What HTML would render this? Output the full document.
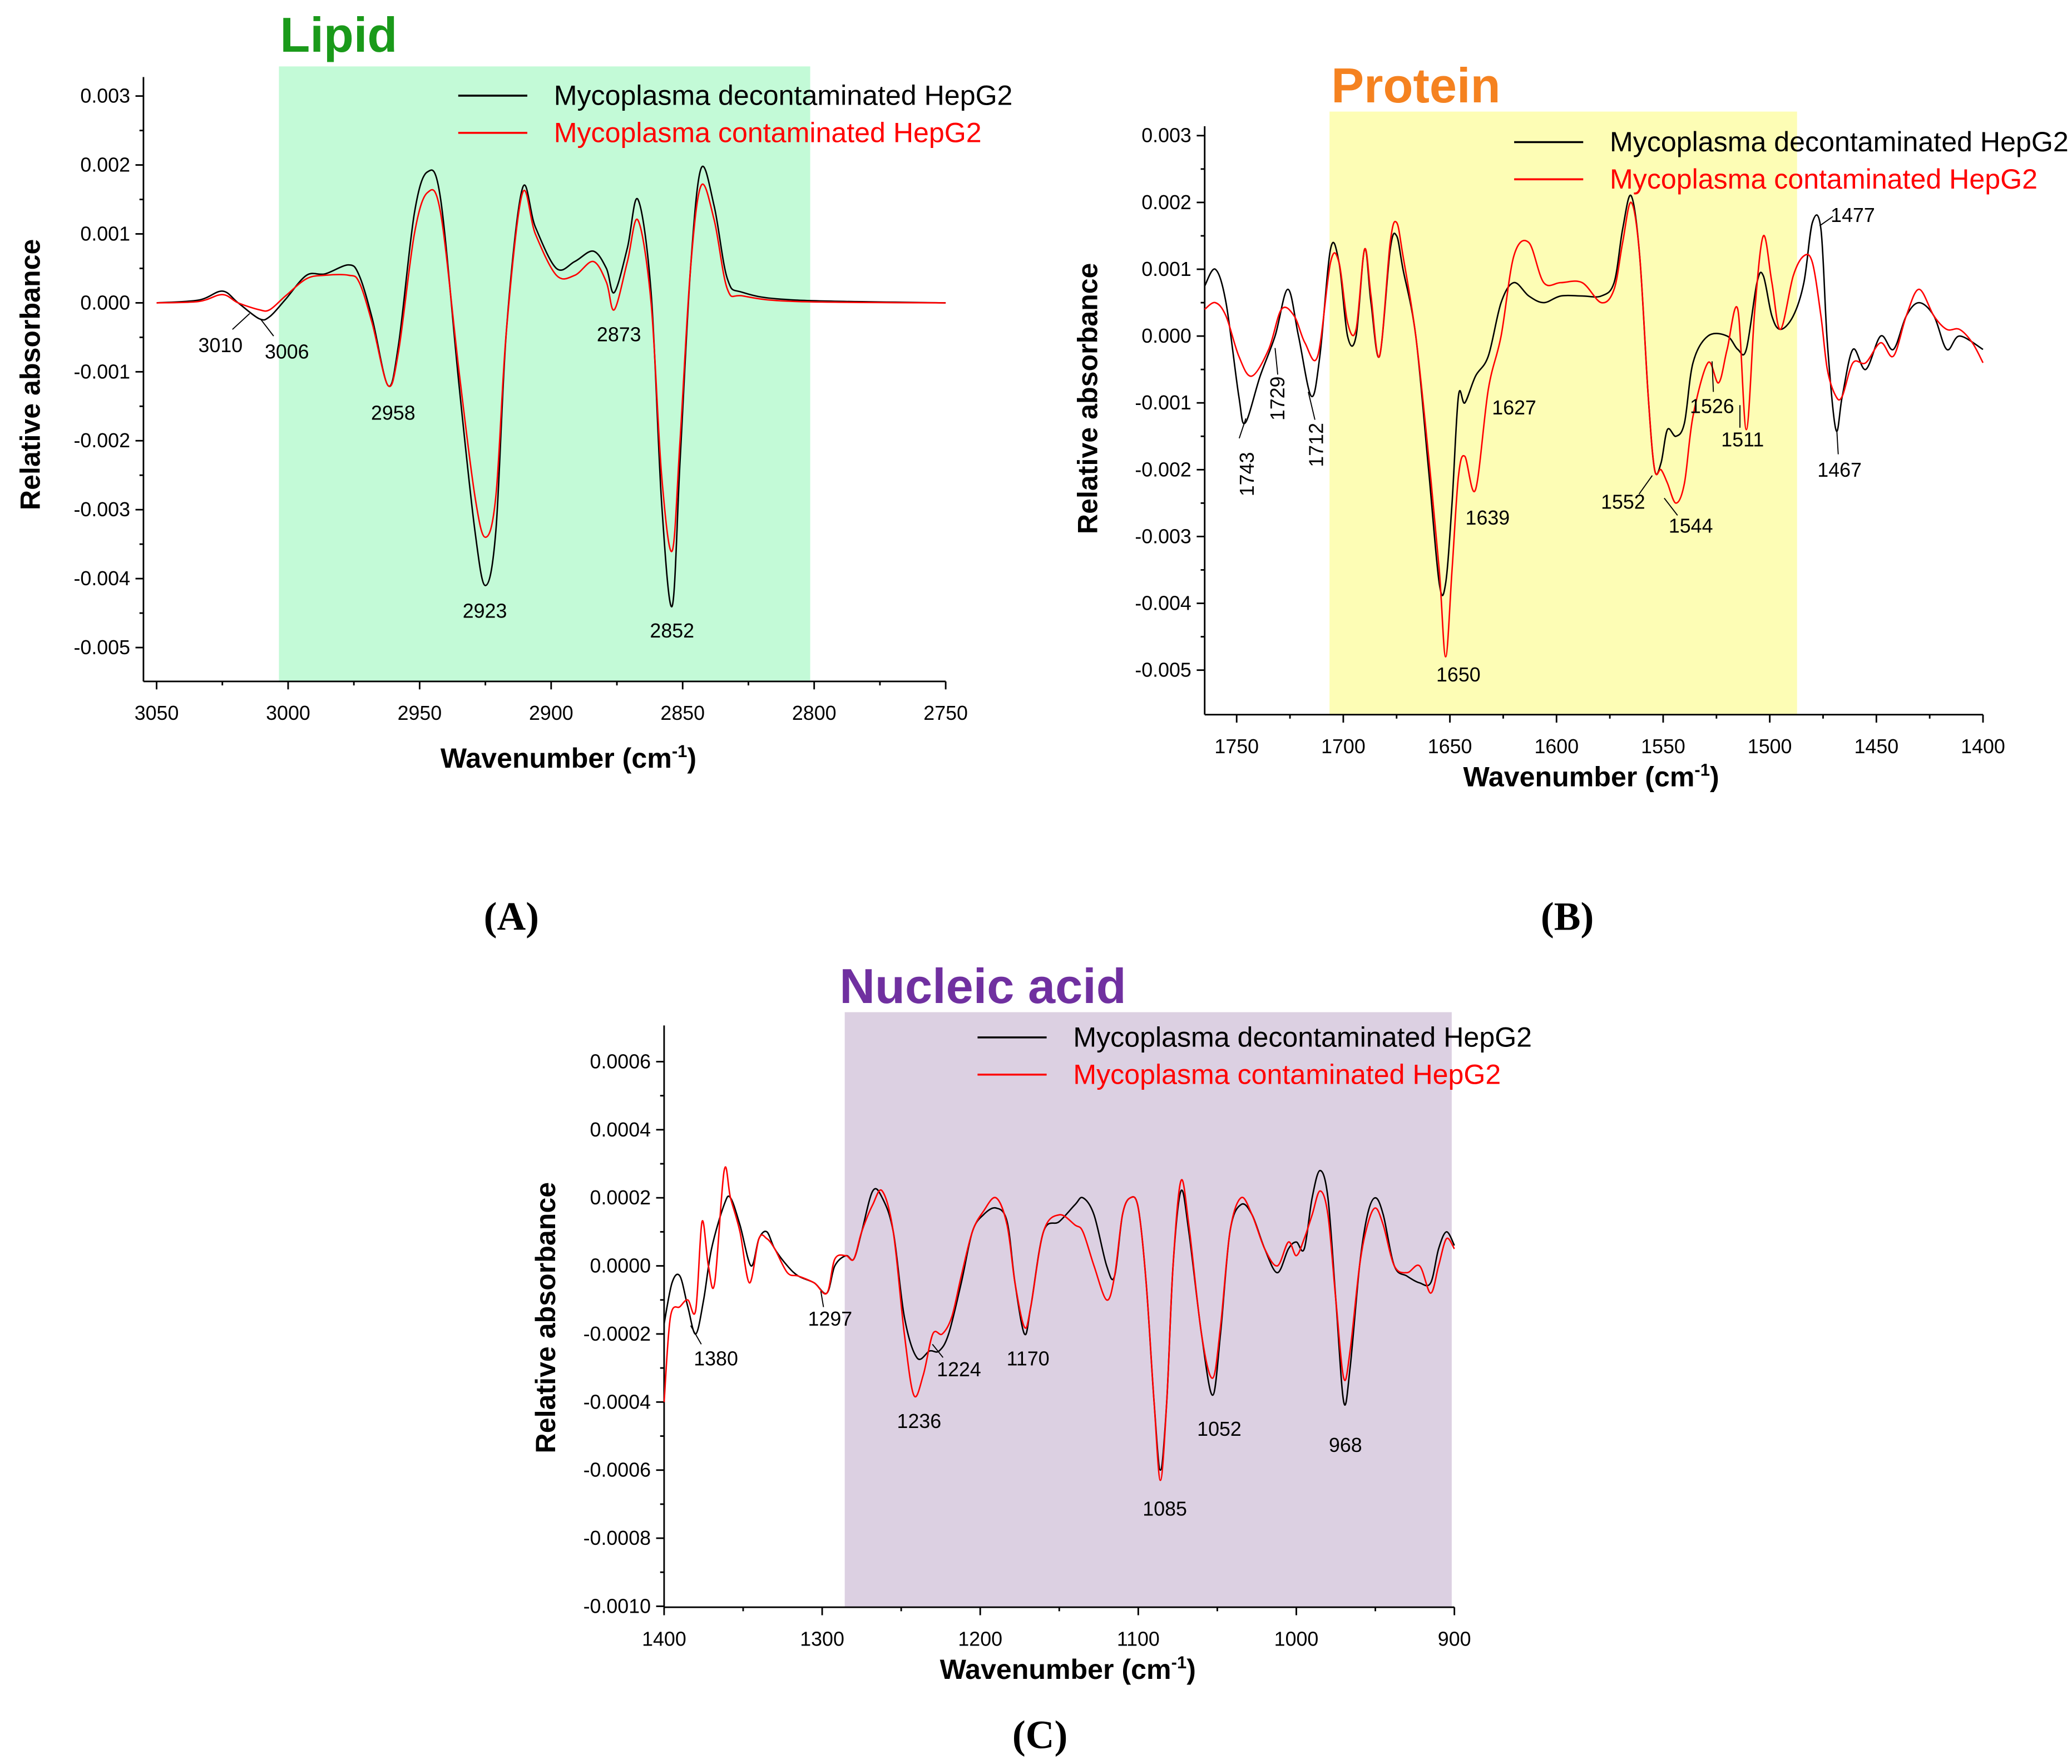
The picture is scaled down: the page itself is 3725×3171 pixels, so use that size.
<!DOCTYPE html>
<html><head><meta charset="utf-8">
<style>
html,body{margin:0;padding:0;background:#fff;}
svg{display:block;}
text{font-family:"Liberation Sans",Arial,sans-serif;}
</style></head>
<body>
<svg id="fig" width="3725" height="3171" viewBox="0 0 1560 1328" xmlns="http://www.w3.org/2000/svg"></svg>
<script>
// ---------- Panel A: Lipid ----------
const aWave = [3050,3034,3025,3019,3011,3007,3001,2993,2986,2977,2973,2968,2962,2958,2952,2947,2942,2935,2929,2925,2921,2917,2911,2906,2898,2891,2884,2879,2876,2871,2867,2862,2858,2854,2851,2847,2843,2838,2833,2827,2807,2750];
const aBlack = [0,0.00004,0.00017,0,-0.00023,-0.0002,0.00005,0.0004,0.00042,0.00055,0.0004,-0.00023,-0.0012,-0.0006,0.0013,0.0019,0.0015,-0.0012,-0.0033,-0.0041,-0.0033,-0.0004,0.00165,0.0011,0.0005,0.0006,0.00075,0.0005,0.00015,0.0008,0.0015,0.00015,-0.0029,-0.0044,-0.0023,0.0005,0.00195,0.0014,0.00035,0.00015,0.00004,0];
const aRed = [0,0.00002,0.00012,0,-0.0001,-0.0001,0.0001,0.00035,0.0004,0.0004,0.0003,-0.0003,-0.0012,-0.0007,0.001,0.0016,0.0013,-0.001,-0.0028,-0.0034,-0.0028,-0.0004,0.00158,0.001,0.0004,0.0004,0.0006,0.0003,-0.0001,0.0006,0.0012,0,-0.0025,-0.0036,-0.002,0.0005,0.0017,0.0012,0.0002,0.0001,0.00002,0];
const aYTicks = [0.003,0.002,0.001,0,-0.001,-0.002,-0.003,-0.004,-0.005];
const aYLabels = ["0.003","0.002","0.001","0.000","-0.001","-0.002","-0.003","-0.004","-0.005"];
const aXTicks = [3050,3000,2950,2900,2850,2800,2750];

// ---------- Panel B: Protein ----------
const bWave = [1765,1760,1755,1749,1746,1739,1732,1726,1721,1715,1711,1706,1702,1698,1694,1690,1687,1683,1678,1675,1672,1666,1660,1655,1652,1649,1646,1643,1638,1632,1626,1620,1613,1606,1598,1588,1579,1573,1569,1565,1561,1557,1554,1551,1548,1544,1540,1536,1529,1520,1515,1511,1506,1503,1499,1495,1489,1484,1480,1476,1473,1469,1466,1461,1455,1448,1442,1436,1430,1423,1417,1411,1400];
const bBlack = [0.00075,0.001,0.0005,-0.0009,-0.0013,-0.0006,0,0.0007,0,-0.0009,-0.0003,0.0013,0.0011,0,0,0.0013,0.0005,-0.0003,0.0013,0.0015,0.001,0,-0.002,-0.0037,-0.0037,-0.0025,-0.0009,-0.001,-0.0006,-0.0003,0.0005,0.0008,0.0006,0.0005,0.0006,0.0006,0.0006,0.0008,0.0016,0.0021,0.0012,-0.0009,-0.002,-0.0019,-0.0014,-0.0015,-0.0013,-0.0004,0,0,-0.0002,-0.0002,0.0008,0.0009,0.0003,0.0001,0.0003,0.0008,0.0017,0.0016,-0.0001,-0.0014,-0.0009,-0.0002,-0.0005,0,-0.0002,0.0003,0.0005,0.0003,-0.0002,0,-0.0002];
const bWaveR = [1765,1760,1755,1749,1743,1735,1729,1723,1718,1712,1706,1702,1698,1694,1690,1687,1683,1678,1675,1672,1666,1660,1655,1652,1649,1646,1643,1638,1632,1626,1620,1613,1606,1598,1588,1579,1573,1569,1565,1561,1557,1554,1551,1548,1544,1540,1536,1529,1524,1520,1515,1511,1507,1503,1499,1495,1489,1484,1480,1476,1473,1469,1466,1461,1455,1448,1442,1436,1430,1423,1417,1411,1405,1400];
const bRed = [0.0004,0.0005,0.0003,-0.0003,-0.0006,-0.0002,0.0004,0.0003,-0.0001,-0.0003,0.0011,0.0011,0.0002,0.0001,0.0013,0.0006,-0.0003,0.0014,0.0017,0.0012,0,-0.0018,-0.0035,-0.0048,-0.0035,-0.0021,-0.0018,-0.0023,-0.0008,0,0.0012,0.0014,0.0008,0.0008,0.0008,0.0005,0.0007,0.0014,0.002,0.0012,-0.0009,-0.002,-0.002,-0.0022,-0.0025,-0.0022,-0.0012,-0.0004,-0.0007,-0.0002,0.0004,-0.0014,0.0004,0.0015,0.0008,0.0001,0.0009,0.0012,0.0011,0.0003,-0.0005,-0.0009,-0.0009,-0.0004,-0.0004,-0.0001,-0.0003,0.0003,0.0007,0.0003,0.0001,0.0001,-0.0001,-0.0004];
const bYTicks = [0.003,0.002,0.001,0,-0.001,-0.002,-0.003,-0.004,-0.005];
const bYLabels = ["0.003","0.002","0.001","0.000","-0.001","-0.002","-0.003","-0.004","-0.005"];
const bXTicks = [1750,1700,1650,1600,1550,1500,1450,1400];

// ---------- Panel C: Nucleic acid ----------
const cWave = [1400,1395,1390,1385,1380,1375,1370,1362,1358,1352,1345,1340,1335,1330,1322,1315,1305,1297,1292,1285,1280,1275,1268,1262,1255,1248,1240,1232,1226,1220,1212,1205,1198,1190,1183,1178,1172,1168,1160,1150,1140,1135,1128,1120,1115,1110,1105,1100,1095,1090,1086,1082,1078,1073,1068,1060,1053,1048,1042,1035,1028,1020,1012,1005,1000,995,990,985,980,975,970,966,960,955,950,945,938,930,922,915,910,905,900];
const cBlack = [-0.00017,-0.00005,-0.00003,-0.00012,-0.0002,-0.0001,0.00005,0.00018,0.0002,0.00012,0,0.00008,0.0001,0.00005,0,-0.00003,-0.00005,-0.00008,0,0.00003,0.00002,0.0001,0.00022,0.0002,0.0001,-0.00015,-0.00027,-0.00025,-0.00025,-0.0002,-0.00005,0.0001,0.00015,0.00017,0.00013,-0.00005,-0.0002,-0.00012,0.0001,0.00013,0.00018,0.0002,0.00015,0,-0.00003,0.00015,0.0002,0.00017,-0.00005,-0.0004,-0.0006,-0.0004,0,0.00022,0.0001,-0.0002,-0.00038,-0.0002,0.0001,0.00018,0.00015,0.00005,-0.00002,0.00005,0.00007,0.00005,0.0002,0.00028,0.0002,-0.0001,-0.0004,-0.0003,0,0.00015,0.0002,0.00015,0,-0.00003,-0.00005,-0.00005,0.00005,0.0001,0.00006];
const cWaveR = [1400,1396,1390,1385,1380,1376,1372,1368,1362,1358,1352,1346,1340,1335,1330,1322,1315,1305,1297,1292,1285,1280,1275,1268,1262,1255,1248,1242,1236,1230,1224,1218,1212,1205,1198,1190,1183,1178,1172,1168,1160,1150,1140,1135,1128,1120,1115,1110,1105,1100,1095,1090,1086,1082,1078,1073,1068,1060,1053,1048,1042,1035,1028,1020,1012,1005,1000,995,990,985,980,975,970,966,960,955,950,945,938,930,922,915,910,905,900];
const cRed = [-0.0004,-0.00015,-0.00012,-0.0001,-0.00013,0.00013,0,-0.00005,0.00028,0.0002,0.0001,-0.00005,0.00008,0.00008,0.00005,-0.00002,-0.00003,-0.00005,-0.00008,0.00002,0.00003,0.00002,0.0001,0.00018,0.00022,0.0001,-0.0002,-0.00038,-0.00032,-0.0002,-0.0002,-0.00015,-0.00003,0.0001,0.00016,0.0002,0.00012,-0.00005,-0.00018,-0.00012,0.0001,0.00015,0.00012,0.0001,0,-0.0001,-0.00003,0.00015,0.0002,0.00017,-0.00005,-0.0004,-0.00063,-0.0004,0,0.00025,0.00012,-0.0002,-0.00033,-0.00018,0.0001,0.0002,0.00015,0.00005,0,0.00007,0.00003,0.00008,0.00015,0.00022,0.00015,-0.0001,-0.00033,-0.00025,0,0.00012,0.00017,0.00012,0,-0.00002,0,-0.00008,0,0.00008,0.00005];
const cYTicks = [0.0006,0.0004,0.0002,0,-0.0002,-0.0004,-0.0006,-0.0008,-0.001];
const cYLabels = ["0.0006","0.0004","0.0002","0.0000","-0.0002","-0.0004","-0.0006","-0.0008","-0.0010"];
const cXTicks = [1400,1300,1200,1100,1000,900];

const NS = "http://www.w3.org/2000/svg";
const svg = document.getElementById('fig');
function mk(tag, attrs, parent, txt){
  const e = document.createElementNS(NS, tag);
  for (const k in attrs) e.setAttribute(k, attrs[k]);
  if (txt !== undefined) e.textContent = txt;
  (parent||svg).appendChild(e);
  return e;
}
function smoothPath(pts){
  let d = "M"+pts[0][0].toFixed(2)+","+pts[0][1].toFixed(2);
  for (let i=0;i<pts.length-1;i++){
    const p0=pts[i-1]||pts[i], p1=pts[i], p2=pts[i+1], p3=pts[i+2]||p2;
    const c1x=p1[0]+(p2[0]-p0[0])/6, c1y=p1[1]+(p2[1]-p0[1])/6;
    const c2x=p2[0]-(p3[0]-p1[0])/6, c2y=p2[1]-(p3[1]-p1[1])/6;
    d += " C"+c1x.toFixed(2)+","+c1y.toFixed(2)+" "+c2x.toFixed(2)+","+c2y.toFixed(2)+" "+p2[0].toFixed(2)+","+p2[1].toFixed(2);
  }
  return d;
}

function panel(cfg){
  const g = mk('g', {});
  
  
  const X = w => cfg.x0 + (cfg.xd[0]-w)/(cfg.xd[0]-cfg.xd[1])*(cfg.x1-cfg.x0);
  const Y = v => cfg.yZero - v*cfg.yScale;
  const r = mk('rect', {x:cfg.sh[0], y:cfg.sh[1], width:cfg.sh[2]-cfg.sh[0], height:cfg.sh[3]-cfg.sh[1], fill:cfg.shColor}, g);
  
  
  const t = mk('text', {x:cfg.title[1], y:cfg.title[2], 'font-size':37, 'font-weight':'bold', fill:cfg.title[3], 'text-anchor':'middle'}, g, cfg.title[0]);
  
  
  const ax = mk('g', {stroke:'#000','stroke-width':1.2}, g);
  
  
  mk('line', {x1:cfg.x0, y1:cfg.yTop, x2:cfg.x0, y2:cfg.yBot}, ax);
  mk('line', {x1:cfg.x0, y1:cfg.yBot, x2:cfg.x1, y2:cfg.yBot}, ax);
  cfg.yt.forEach((v,i)=>{
    const y=Y(v);
    mk('line',{x1:cfg.x0-6,y1:y,x2:cfg.x0,y2:y},ax);
    if (i<cfg.yt.length-1){ const y2=(y+Y(cfg.yt[i+1]))/2; mk('line',{x1:cfg.x0-3,y1:y2,x2:cfg.x0,y2:y2},ax); }
    const tl = mk('text',{x:cfg.x0-10,y:y+5,'font-size':15,'text-anchor':'end',stroke:'none'},g,cfg.yl[i]);
    
    
  });
  cfg.xt.forEach((w,i)=>{
    const x=X(w);
    mk('line',{x1:x,y1:cfg.yBot,x2:x,y2:cfg.yBot+6},ax);
    if (i<cfg.xt.length-1){ const xm=(x+X(cfg.xt[i+1]))/2; mk('line',{x1:xm,y1:cfg.yBot,x2:xm,y2:cfg.yBot+3},ax); }
    const tl = mk('text',{x:x,y:cfg.yBot+29,'font-size':15,'text-anchor':'middle'},g,String(w));
    
    
  });
  const yt = mk('text',{x:0,y:0,'font-size':21,'font-weight':'bold','text-anchor':'middle',transform:`translate(${cfg.ytPos[0]},${cfg.ytPos[1]}) rotate(-90)`},g,'Relative absorbance');
  
  
  const xt = mk('text',{x:cfg.xtPos[0],y:cfg.xtPos[1],'font-size':21,'font-weight':'bold','text-anchor':'middle'},g);
  
  
  xt.appendChild(document.createTextNode('Wavenumber (cm'));
  mk('tspan',{'font-size':13,dy:-8},xt,'-1');
  mk('tspan',{dy:8},xt,')');
  const sb = mk('path',{d:smoothPath(cfg.wb.map((w,i)=>[X(w),Y(cfg.vb[i])])),fill:'none',stroke:'#000','stroke-width':1.1},g);
  
  
  const sr = mk('path',{d:smoothPath(cfg.wr.map((w,i)=>[X(w),Y(cfg.vr[i])])),fill:'none',stroke:'#ff0000','stroke-width':1.1},g);
  
  
  const lg = mk('g',{},g);
  
  
  const [lx,ly] = cfg.leg;
  mk('line',{x1:lx,y1:ly,x2:lx+52,y2:ly,stroke:'#000','stroke-width':1.5},lg);
  mk('text',{x:lx+72,y:ly+7,'font-size':21},lg,'Mycoplasma decontaminated HepG2');
  mk('line',{x1:lx,y1:ly+28,x2:lx+52,y2:ly+28,stroke:'#ff0000','stroke-width':1.5},lg);
  mk('text',{x:lx+72,y:ly+35,'font-size':21,fill:'#ff0000'},lg,'Mycoplasma contaminated HepG2');
  const an = mk('g',{},g);
  
  
  cfg.ann.forEach(a=>{
    const at = {x:a[1],y:a[2],'font-size':15,'text-anchor':'middle'};
    if (a[3]) at.transform = `rotate(-90 ${a[1]} ${a[2]})`;
    mk('text',at,an,a[0]);
  });
  (cfg.lead||[]).forEach(l=>mk('line',{x1:l[0],y1:l[1],x2:l[2],y2:l[3],stroke:'#000','stroke-width':0.8},an));
}

panel({name:'panel-a-lipid', xd:[3055,2750], x0:108, x1:712, yZero:228, yScale:51900, yTop:58, yBot:513,
  sh:[210,50,610,513], shColor:'#c3fad7', title:['Lipid',255,39,'#1a9a1a'],
  yt:aYTicks, yl:aYLabels, xt:aXTicks, ytPos:[30,282], xtPos:[428,578],
  wb:aWave, vb:aBlack, wr:aWave, vr:aRed, leg:[345,72],
  ann:[['3010',166,265],['3006',216,270],['2958',296,316],['2923',365,465],['2873',466,257],['2852',506,480]],
  lead:[[175,248,188,236],[206,253,196,240]]});

panel({name:'panel-b-protein', xd:[1765,1400], x0:907, x1:1493, yZero:253, yScale:50300, yTop:95, yBot:538,
  sh:[1001,84,1353,538], shColor:'#fdfdb5', title:['Protein',1066,77,'#f58220'],
  yt:bYTicks, yl:bYLabels, xt:bXTicks, ytPos:[826,300], xtPos:[1198,592],
  wb:bWave, vb:bBlack, wr:bWaveR, vr:bRed, leg:[1140,107],
  ann:[['1743',944,357,1],['1729',967,300,1],['1712',996,335,1],['1627',1140,312],['1639',1120,395],['1650',1098,513],['1552',1222,383],['1544',1273,401],['1526',1289,311],['1511',1312,336],['1477',1395,167],['1467',1385,359]],
  lead:[[933,330,938,315],[962,282,960,262],[990,316,985,295],[1234,372,1244,358],[1263,388,1253,375],[1290,295,1289,272],[1310,322,1310,305],[1370,170,1380,163],[1384,342,1383,325]]});

panel({name:'panel-c-nucleic-acid', xd:[1400,900], x0:500, x1:1095, yZero:953, yScale:256250, yTop:772, yBot:1210,
  sh:[636,762,1093,1210], shColor:'#dcd0e2', title:['Nucleic acid',740,755,'#7030a0'],
  yt:cYTicks, yl:cYLabels, xt:cXTicks, ytPos:[418,992], xtPos:[804,1264],
  wb:cWave, vb:cBlack, wr:cWaveR, vr:cRed, leg:[736,781],
  ann:[['1380',539,1028],['1297',625,998],['1236',692,1075],['1224',722,1036],['1170',774,1028],['1085',877,1141],['1052',918,1081],['968',1013,1093]],
  lead:[[528,1012,520,998],[620,984,618,972],[710,1022,702,1012]]});

[['(A)',385,700],['(B)',1180,700],['(C)',783,1316]].forEach(p=>{
  const t = mk('text',{x:p[1],y:p[2],'font-size':30,'font-weight':'bold','text-anchor':'middle',style:'font-family:"Liberation Serif",serif'},svg,p[0]);
  
  
});
</script>
</body></html>
